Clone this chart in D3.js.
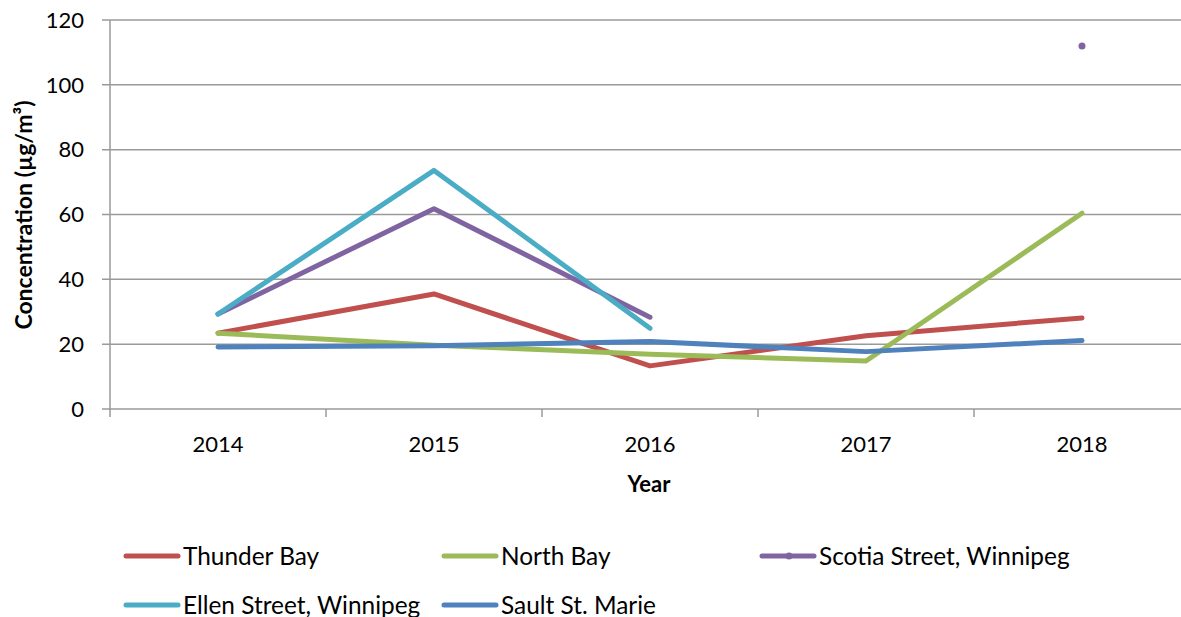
<!DOCTYPE html>
<style>
    body {
        margin: 0;
        overflow: hidden;
        background: #fff;
    }
</style>
<div id="container"></div>
<script src="https://cdn.jsdelivr.net/npm/d3@7"></script>
<script>
    const width = 1181, height = 617;

    const years = ["2014", "2015", "2016", "2017", "2018"];
    const yTicks = [0, 20, 40, 60, 80, 100, 120];

    const thunderBay = [23.4, 35.5, 13.3, 22.6, 28.1];
    const northBay = [23.4, 19.7, 16.9, 14.8, 60.4];
    const scotia = [29.3, 61.8, 28.3, null, 112.0];
    const ellen = [29.3, 73.6, 24.9, null, null];
    const sault = [19.1, 19.5, 20.8, 17.7, 21.1];

    const seriesNames = ["Thunder Bay", "North Bay", "Scotia Street, Winnipeg", "Ellen Street, Winnipeg", "Sault St. Marie"];
    const seriesColors = ["#C0504D", "#9BBB59", "#8064A2", "#4BACC6", "#4F81BD"];
    const seriesValues = [thunderBay, northBay, scotia, ellen, sault];

    const font = "Lato, 'Open Sans', sans-serif";

    const svg = d3.select("#container").append("svg")
        .attr("width", width)
        .attr("height", height)
        .style("font-family", font);

    // plot area
    const plotLeft = 110, plotRight = 1190, plotTop = 20, plotBottom = 409;

    const x = d3.scaleBand().domain(years).range([plotLeft, plotRight]);
    const y = d3.scaleLinear().domain([0, 120]).range([plotBottom, plotTop]);

    // gridlines
    svg.append("g")
        .selectAll("line")
        .data(yTicks)
        .join("line")
        .attr("x1", plotLeft - 8)
        .attr("x2", plotRight)
        .attr("y1", d => y(d))
        .attr("y2", d => y(d))
        .attr("stroke", "#9a9a9a")
        .attr("stroke-width", 1.5);

    // y axis line
    svg.append("line")
        .attr("x1", plotLeft).attr("x2", plotLeft)
        .attr("y1", plotTop).attr("y2", plotBottom + 1)
        .attr("stroke", "#9a9a9a").attr("stroke-width", 1.5);

    // x category boundary ticks
    const boundaries = years.map(d => x(d)).concat([plotRight]);
    svg.append("g")
        .selectAll("line")
        .data(boundaries)
        .join("line")
        .attr("x1", d => d).attr("x2", d => d)
        .attr("y1", plotBottom).attr("y2", plotBottom + 8)
        .attr("stroke", "#9a9a9a").attr("stroke-width", 1.5);

    // y tick labels
    svg.append("g")
        .selectAll("text")
        .data(yTicks)
        .join("text")
        .attr("x", 84)
        .attr("y", d => y(d))
        .attr("dy", "0.35em")
        .attr("text-anchor", "end")
        .attr("font-size", 22)
        .attr("fill", "#000")
        .text(d => d);

    // x tick labels
    svg.append("g")
        .selectAll("text")
        .data(years)
        .join("text")
        .attr("x", d => x(d) + x.bandwidth() / 2)
        .attr("y", 452)
        .attr("text-anchor", "middle")
        .attr("font-size", 22)
        .text(d => d);

    // axis titles
    svg.append("text")
        .attr("x", 649).attr("y", 492)
        .attr("text-anchor", "middle")
        .attr("font-size", 22)
        .attr("font-weight", "bold")
        .text("Year");

    svg.append("text")
        .attr("transform", "translate(32,215) rotate(-90)")
        .attr("text-anchor", "middle")
        .attr("font-size", 23)
        .attr("font-weight", "bold")
        .text("Concentration (µg/m³)");

    // lines
    const line = d3.line()
        .defined(d => d.v != null)
        .x(d => x(d.year) + x.bandwidth() / 2)
        .y(d => y(d.v));

    seriesValues.forEach((vals, i) => {
        const pts = vals.map((v, j) => ({ year: years[j], v }));
        svg.append("path")
            .datum(pts)
            .attr("d", line)
            .attr("fill", "none")
            .attr("stroke", seriesColors[i])
            .attr("stroke-width", 5)
            .attr("stroke-linejoin", "round")
            .attr("stroke-linecap", "round");
    });

    // Scotia lone marker (2018)
    svg.append("circle")
        .attr("cx", x("2018") + x.bandwidth() / 2)
        .attr("cy", y(scotia[4]))
        .attr("r", 3.5)
        .attr("fill", seriesColors[2]);

    // legend
    const legendPos = [
        [126, 556], [444, 556], [762, 556],
        [126, 605], [444, 605]
    ];
    seriesNames.forEach((name, i) => {
        const [lx, ly] = legendPos[i];
        const g = svg.append("g").attr("transform", `translate(${lx},${ly})`);
        g.append("line")
            .attr("x1", 0).attr("x2", 52)
            .attr("y1", 0).attr("y2", 0)
            .attr("stroke", seriesColors[i])
            .attr("stroke-width", 5)
            .attr("stroke-linecap", "round");
        if (i === 2) {
            g.append("circle").attr("cx", 27).attr("cy", 0).attr("r", 3.5).attr("fill", seriesColors[i]);
        }
        g.append("text")
            .attr("x", 57)
            .attr("y", 0)
            .attr("dy", "0.35em")
            .attr("font-size", 24.4)
            .text(name);
    });
</script>
